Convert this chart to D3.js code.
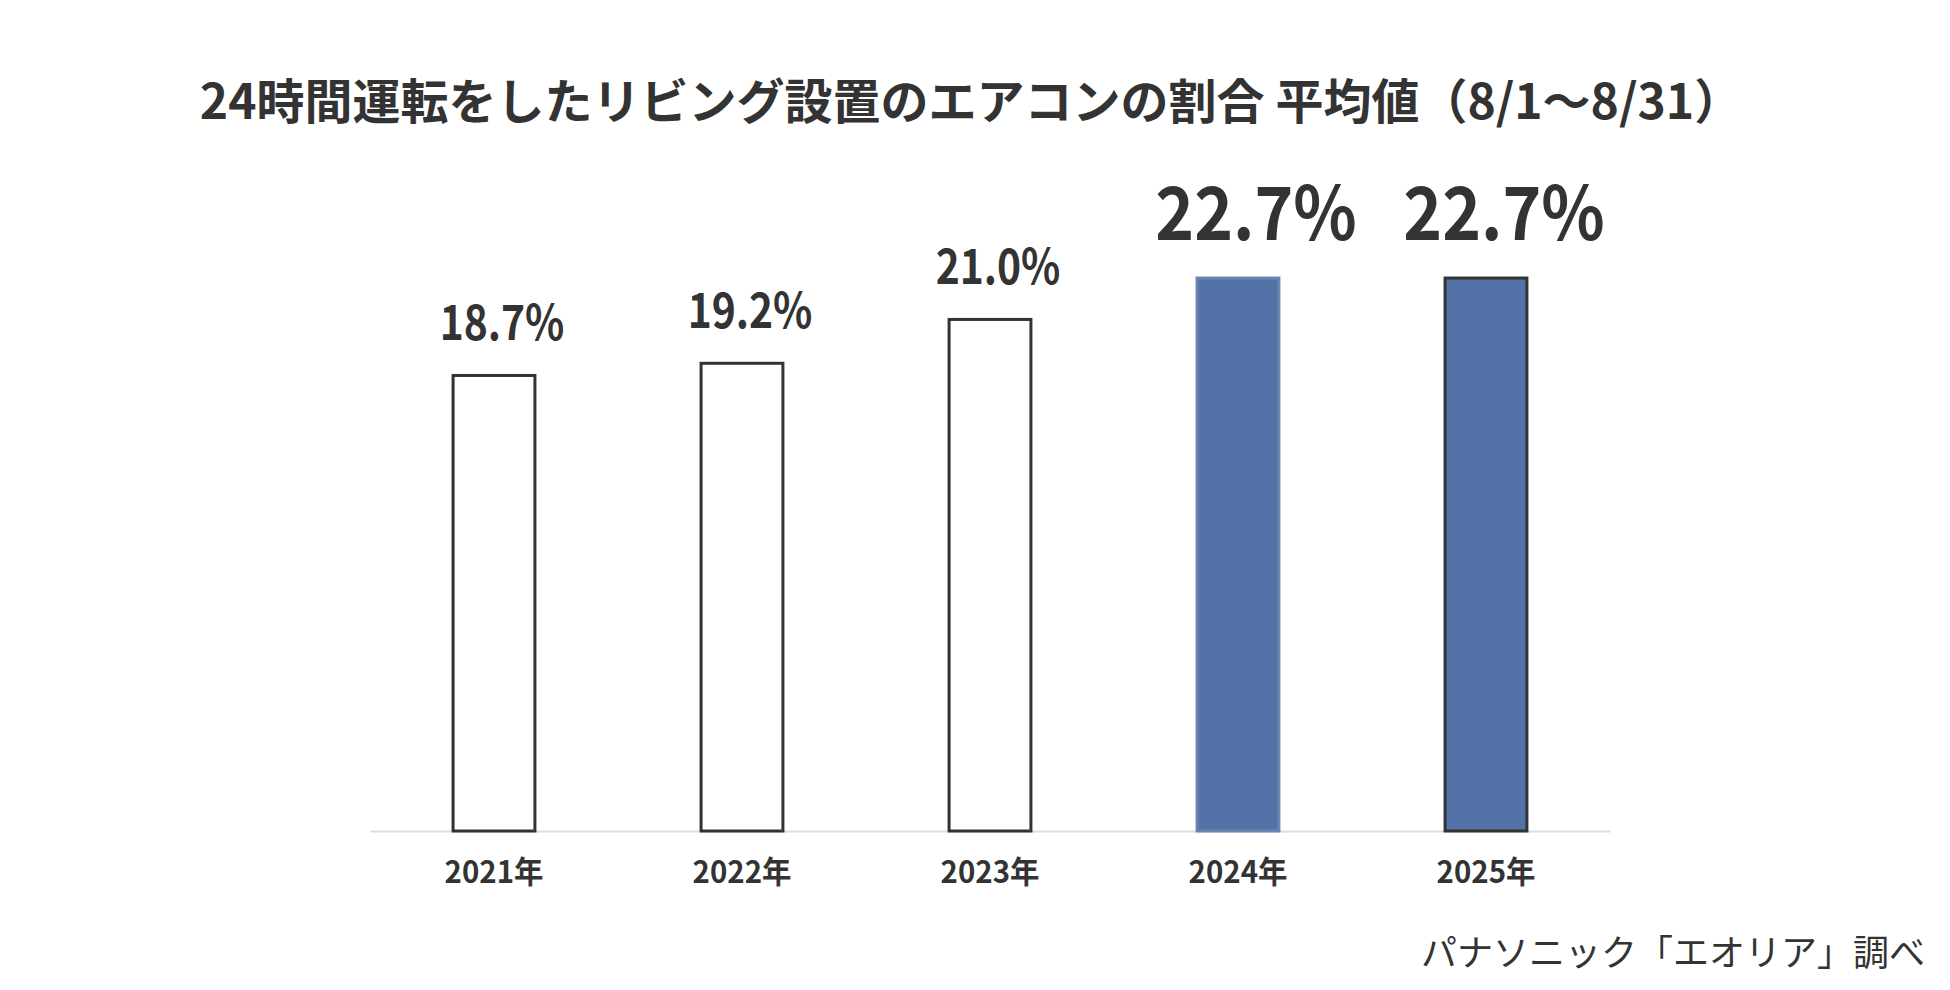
<!DOCTYPE html>
<html>
<head>
<meta charset="utf-8">
<script src="https://cdn.jsdelivr.net/npm/d3@7"></script>
<style>
  body { margin: 0; background: #fff; }
  svg { display: block; font-family: "Noto Sans CJK JP", "Noto Sans", sans-serif; }
</style>
</head>
<body>
<div id="chart"></div>
<script>
const years = ['2021年', '2022年', '2023年', '2024年', '2025年'];
const shares = [18.7, 19.2, 21.0, 22.7, 22.7];
const highlighted = [false, false, false, true, true];

const W = 1950, H = 990;
const pad = {l: 370, r: 340, t: 222, b: 159};
const INK = '#333333';
const BLUE = '#5272a8';

const svg = d3.select('#chart').append('svg')
  .attr('width', W)
  .attr('height', H);

svg.append('text')
  .attr('x', 971).attr('y', 119)
  .attr('text-anchor', 'middle')
  .attr('font-size', 48)
  .attr('font-weight', 700)
  .attr('fill', INK)
  .text('24時間運転をしたリビング設置のエアコンの割合 平均値（8/1〜8/31）');

const chart = svg.append('g')
  .attr('transform', `translate(${pad.l}, ${pad.t})`);
const iw = W - pad.l - pad.r;
const ih = H - pad.t - pad.b;

const x = d3.scaleBand()
  .domain(years)
  .range([0, iw])
  .paddingInner(0.67)
  .paddingOuter(0.335);
const y = d3.scaleLinear()
  .domain([0, 25])
  .range([ih, 0]);

// baseline only, no ticks; labels a touch condensed like the original
const xAxis = chart.append('g')
  .attr('transform', `translate(0, ${ih})`)
  .call(d3.axisBottom(x).tickSize(0).tickPadding(30));
xAxis.select('.domain')
  .attr('stroke', '#d6dde5')
  .attr('stroke-width', 2);
xAxis.selectAll('text')
  .attr('font-size', 31)
  .attr('font-weight', 700)
  .attr('fill', INK)
  .attr('font-family', '"Noto Sans CJK JP", sans-serif')
  .attr('transform', 'scale(0.95, 1)')
  .attr('x', 0);

const rows = years.map((yr, i) => ({yr, v: shares[i], hi: highlighted[i], i}));

chart.selectAll('.bar')
  .data(rows)
  .join('rect')
  .classed('bar', true)
  .attr('x', d => x(d.yr))
  .attr('y', d => y(d.v))
  .attr('width', x.bandwidth())
  .attr('height', d => ih - y(d.v))
  .attr('fill', d => d.hi ? BLUE : '#ffffff')
  .attr('stroke', d => d.i === 3 ? '#6a84b0' : INK)
  .attr('stroke-width', 3);

chart.selectAll('.val')
  .data(rows)
  .join('text')
  .classed('val', true)
  .attr('transform', d => {
    const cx = x(d.yr) + x.bandwidth() / 2 + (d.hi ? 18 : 8);
    const cy = y(d.v) - (d.hi ? 38 : 35);
    return `translate(${cx}, ${cy}) scale(${d.hi ? 0.89 : 0.85}, 1)`;
  })
  .attr('text-anchor', 'middle')
  .attr('font-size', d => d.hi ? 74 : 48)
  .attr('font-weight', 700)
  .attr('fill', INK)
  .text(d => d.v.toFixed(1) + '%');

svg.append('text')
  .attr('x', 1925).attr('y', 966)
  .attr('text-anchor', 'end')
  .attr('font-size', 36)
  .attr('fill', INK)
  .text('パナソニック「エオリア」調べ');
</script>
</body>
</html>
